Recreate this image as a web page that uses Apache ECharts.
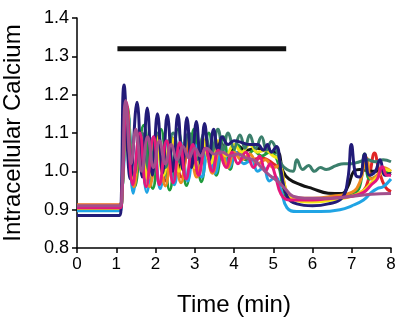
<!DOCTYPE html>
<html><head><meta charset="utf-8">
<script src="https://cdn.jsdelivr.net/npm/echarts@6/dist/echarts.min.js"></script>
<style>html,body{margin:0;padding:0;background:#fff}#c{width:400px;height:321px}</style>
</head><body><div id="c"></div>
<script>
// x tick labels (min) and y tick labels
const xTicks = [0,1,2,3,4,5,6,7,8];
const yTicks = [0.8,0.9,1.0,1.1,1.2,1.3,1.4];
// stimulus bar: [time, level]
const stimBar = [[1.03,1.32],[5.33,1.32]];
// traces: [time (min), intracellular calcium]
const red = [[0,0.912],[1.1,0.912],[1.15,0.96],[1.28,1.16],[1.46,0.97],[1.66,1.09],[1.86,0.97],[2.06,1.08],[2.26,0.975],[2.46,1.075],[2.66,0.985],[2.86,1.07],[3.06,0.995],[3.26,1.065],[3.46,1.005],[3.66,1.06],[3.86,1.02],[4.1,1.05],[4.4,1.03],[4.7,1.035],[5.0,1.02],[5.2,1.0],[5.35,0.94],[5.5,0.93],[6.0,0.925],[6.5,0.93],[7.0,0.94],[7.3,0.95],[7.45,0.99],[7.58,1.048],[7.7,1.0],[7.85,0.96],[8.0,0.947]];
const black = [[0,0.905],[1.1,0.905],[1.15,0.95],[1.27,1.16],[1.45,0.98],[1.65,1.1],[1.85,0.99],[2.05,1.09],[2.25,1.0],[2.45,1.085],[2.65,1.01],[2.85,1.08],[3.05,1.02],[3.25,1.08],[3.45,1.03],[3.65,1.075],[3.85,1.045],[4.05,1.07],[4.3,1.055],[4.6,1.06],[4.9,1.05],[5.1,1.05],[5.25,1.0],[5.4,0.98],[5.7,0.965],[6.0,0.955],[6.4,0.943],[6.75,0.942],[6.9,0.96],[7.05,1.0],[7.2,1.005],[7.5,1.0],[7.8,1.0],[8.0,0.995]];
const green = [[0,0.905],[1.1,0.905],[1.15,0.95],[1.28,1.17],[1.47,0.96],[1.7,1.12],[1.93,0.955],[2.14,1.11],[2.36,0.951],[2.57,1.11],[2.79,0.963],[2.98,1.11],[3.17,0.973],[3.36,1.1],[3.55,0.99],[3.73,1.09],[3.9,1.005],[4.08,1.07],[4.3,1.03],[4.5,1.055],[4.7,1.04],[4.9,1.05],[5.1,1.03],[5.25,0.96],[5.4,0.93],[6.0,0.925],[6.5,0.93],[7.0,0.94],[7.2,0.96],[7.33,1.045],[7.45,0.98],[7.6,0.985],[7.8,1.0],[8.0,1.0]];
const cyan = [[0,0.897],[1.1,0.897],[1.15,0.95],[1.3,1.15],[1.43,0.943],[1.6,1.1],[1.78,0.945],[1.95,1.09],[2.12,0.955],[2.3,1.08],[2.48,0.965],[2.65,1.075],[2.82,0.975],[3.0,1.07],[3.18,0.985],[3.35,1.065],[3.52,0.995],[3.7,1.06],[3.88,1.01],[4.05,1.05],[4.25,1.02],[4.45,1.03],[4.6,1.0],[4.75,1.01],[4.9,0.975],[5.05,0.985],[5.2,0.95],[5.35,0.905],[5.6,0.895],[6.2,0.895],[6.7,0.9],[7.0,0.91],[7.3,0.925],[7.5,0.945],[7.65,0.955],[7.8,0.96],[8.0,0.98]];
const orange = [[0,0.912],[1.1,0.912],[1.15,0.96],[1.27,1.17],[1.45,0.96],[1.65,1.1],[1.85,0.96],[2.05,1.09],[2.25,0.962],[2.45,1.085],[2.65,0.97],[2.85,1.08],[3.05,0.985],[3.25,1.075],[3.45,0.995],[3.65,1.065],[3.85,1.01],[4.0,1.05],[4.2,1.03],[4.4,1.045],[4.6,1.02],[4.8,1.03],[5.0,1.01],[5.15,1.015],[5.3,0.95],[5.45,0.93],[6.0,0.93],[6.5,0.935],[7.0,0.945],[7.2,0.97],[7.38,1.035],[7.5,0.98],[7.65,0.99],[7.8,1.01],[8.0,1.0]];
const yellow = [[0,0.903],[1.1,0.903],[1.15,0.95],[1.27,1.15],[1.44,0.98],[1.62,1.1],[1.8,0.98],[2.0,1.09],[2.2,0.99],[2.4,1.09],[2.6,1.0],[2.8,1.09],[3.0,1.01],[3.2,1.085],[3.4,1.02],[3.6,1.08],[3.8,1.04],[4.0,1.07],[4.2,1.05],[4.4,1.07],[4.6,1.05],[4.8,1.055],[5.0,1.04],[5.15,1.03],[5.3,0.96],[5.45,0.93],[6.0,0.92],[6.5,0.925],[7.0,0.935],[7.3,0.95],[7.5,0.97],[7.7,0.99],[7.85,1.005],[8.0,1.0]];
const teal = [[0,0.905],[1.1,0.905],[1.15,0.95],[1.27,1.15],[1.45,0.99],[1.65,1.1],[1.85,1.0],[2.05,1.1],[2.25,1.01],[2.45,1.1],[2.65,1.02],[2.85,1.1],[3.05,1.03],[3.25,1.1],[3.42,1.045],[3.59,1.11],[3.72,1.055],[3.85,1.1],[4.0,1.06],[4.15,1.095],[4.28,1.06],[4.4,1.095],[4.55,1.06],[4.7,1.09],[4.83,1.055],[4.95,1.078],[5.1,1.05],[5.2,1.02],[5.35,1.005],[5.5,1.0],[5.6,1.03],[5.75,1.005],[5.9,1.015],[6.05,1.0],[6.2,1.01],[6.35,1.005],[6.6,1.015],[6.8,1.02],[7.0,1.02],[7.2,1.025],[7.4,1.03],[7.6,1.025],[7.8,1.03],[8.0,1.025]];
const navy = [[0,0.885],[1.08,0.885],[1.12,0.9],[1.2,1.225],[1.36,0.98],[1.53,1.18],[1.66,0.985],[1.79,1.165],[1.92,0.99],[2.05,1.15],[2.18,0.995],[2.3,1.147],[2.44,1.0],[2.57,1.148],[2.69,1.005],[2.8,1.14],[2.92,1.01],[3.04,1.13],[3.15,1.02],[3.25,1.125],[3.37,1.03],[3.48,1.11],[3.6,1.05],[3.7,1.09],[3.85,1.07],[4.0,1.08],[4.2,1.075],[4.4,1.07],[4.6,1.07],[4.75,1.055],[4.85,1.07],[4.95,1.05],[5.08,1.065],[5.2,1.0],[5.35,0.935],[5.6,0.915],[6.0,0.91],[6.4,0.915],[6.75,0.93],[6.9,0.98],[6.99,1.07],[7.1,0.99],[7.2,0.985],[7.33,1.045],[7.45,0.99],[7.6,1.0],[7.72,1.03],[7.85,0.99],[8.0,0.995]];
const magenta = [[0,0.905],[1.1,0.905],[1.15,0.95],[1.26,1.18],[1.42,0.965],[1.6,1.1],[1.76,0.96],[1.95,1.09],[2.1,0.965],[2.28,1.08],[2.45,0.97],[2.62,1.075],[2.78,0.98],[2.95,1.07],[3.1,0.99],[3.27,1.06],[3.45,1.0],[3.6,1.055],[3.8,1.01],[3.95,1.05],[4.1,1.02],[4.3,1.05],[4.5,1.01],[4.65,1.04],[4.8,1.0],[4.92,1.02],[5.05,0.99],[5.2,0.94],[5.4,0.925],[6.0,0.925],[6.5,0.93],[7.0,0.935],[7.3,0.945],[7.5,0.965],[7.65,0.98],[7.78,1.012],[7.9,0.99],[8.0,0.99]];
const mauve = [[0,0.91],[1.1,0.91],[1.15,0.96],[1.24,1.185],[1.38,1.02],[1.5,1.11],[1.65,1.0],[1.8,1.09],[1.95,1.01],[2.1,1.08],[2.25,1.02],[2.4,1.07],[2.55,1.03],[2.7,1.065],[2.85,1.035],[3.0,1.06],[3.15,1.04],[3.3,1.06],[3.5,1.045],[3.7,1.05],[3.9,1.04],[4.1,1.045],[4.3,1.035],[4.5,1.03],[4.7,1.01],[4.9,0.99],[5.1,0.975],[5.3,0.955],[5.5,0.935],[5.8,0.93],[6.5,0.93],[7.0,0.935],[7.5,0.94],[8.0,0.942]];

const traces = [
  [red,'#e02626'],[black,'#141414'],[green,'#1f9b3c'],[cyan,'#20a4e4'],[orange,'#ef8a1f'],
  [yellow,'#f3e516'],[teal,'#3b7f6c'],[navy,'#221b78'],[magenta,'#e5177c'],[mauve,'#a24f8c']
];
const F = '"Liberation Sans", Arial, sans-serif';
const series = traces.map(([d,c]) => ({
  type:'line', data:d, smooth:0.45, symbol:'none', silent:true,
  lineStyle:{color:c, width:3}
}));
series.push({type:'line', data:stimBar, symbol:'none', silent:true, lineStyle:{color:'#111', width:5, cap:'butt'}});

const chart = echarts.init(document.getElementById('c'), null, {renderer:'canvas'});
chart.setOption({
  animation:false,
  grid:{left:77, right:9, top:18, bottom:73, containLabel:false, outerBoundsMode:'none'},
  xAxis:{type:'value', min:xTicks[0], max:xTicks[xTicks.length-1], interval:1,
    name:'Time (min)', nameLocation:'middle', nameGap:45,
    nameTextStyle:{fontFamily:F, fontSize:24, color:'#000'},
    axisLine:{lineStyle:{color:'#000', width:1.5}},
    axisTick:{show:true, length:5, lineStyle:{color:'#000', width:1.5}},
    axisLabel:{fontFamily:F, fontSize:17, color:'#000', margin:8},
    splitLine:{show:false}},
  yAxis:{type:'value', min:yTicks[0], max:yTicks[yTicks.length-1], interval:0.1,
    name:'Intracellular Calcium', nameLocation:'middle', nameGap:52,
    nameTextStyle:{fontFamily:F, fontSize:24, color:'#000'},
    axisLine:{show:true, lineStyle:{color:'#000', width:1.5}},
    axisTick:{show:true, length:5, lineStyle:{color:'#000', width:1.5}},
    axisLabel:{fontFamily:F, fontSize:18, color:'#000', margin:8, formatter:v=>v.toFixed(1)},
    splitLine:{show:false}},
  series:series
});
</script></body></html>
